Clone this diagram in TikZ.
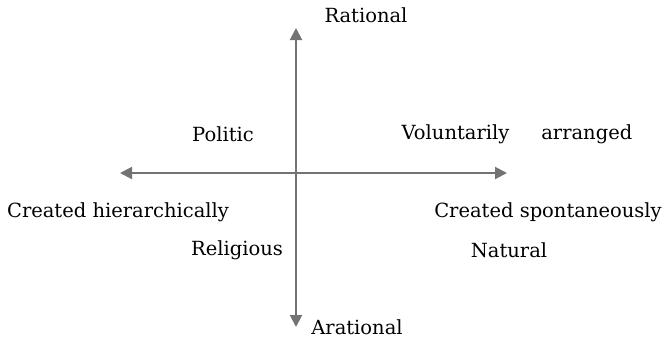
\documentclass[tikz,border=0pt]{standalone}
\usepackage{fontspec}
\setmainfont{DejaVu Serif}
\usetikzlibrary{arrows.meta}
\begin{document}
\begin{tikzpicture}[x=1pt,y=-1pt,
  axis/.style={draw=black!55, line width=2pt, {Triangle[length=12pt,width=12pt]}-{Triangle[length=12pt,width=12pt]}},
  lbl/.style={font=\fontsize{19.5}{23}\selectfont, inner sep=0pt, text=black}]
\useasboundingbox (0,0) rectangle (662,341);
\coordinate (L) at (120,173);
\coordinate (R) at (507,173);
\coordinate (T) at (296,28);
\coordinate (B) at (296,327);
\draw[axis] (L) -- (R);
\draw[axis] (T) -- (B);
\node[lbl] (rat) at (366,15) {Rational};
\node[lbl] (arat) at (357,327) {Arational};
\node[lbl] (pol) at (223,134) {Politic};
\node[lbl] (vol) at (517,134) {Voluntarily\hspace{32pt}arranged};
\node[lbl] (hier) at (118,212) {Created hierarchically};
\node[lbl] (spon) at (548,212) {Created spontaneously};
\node[lbl] (rel) at (237,250) {Religious};
\node[lbl] (nat) at (509,250) {Natural};
\end{tikzpicture}
\end{document}
